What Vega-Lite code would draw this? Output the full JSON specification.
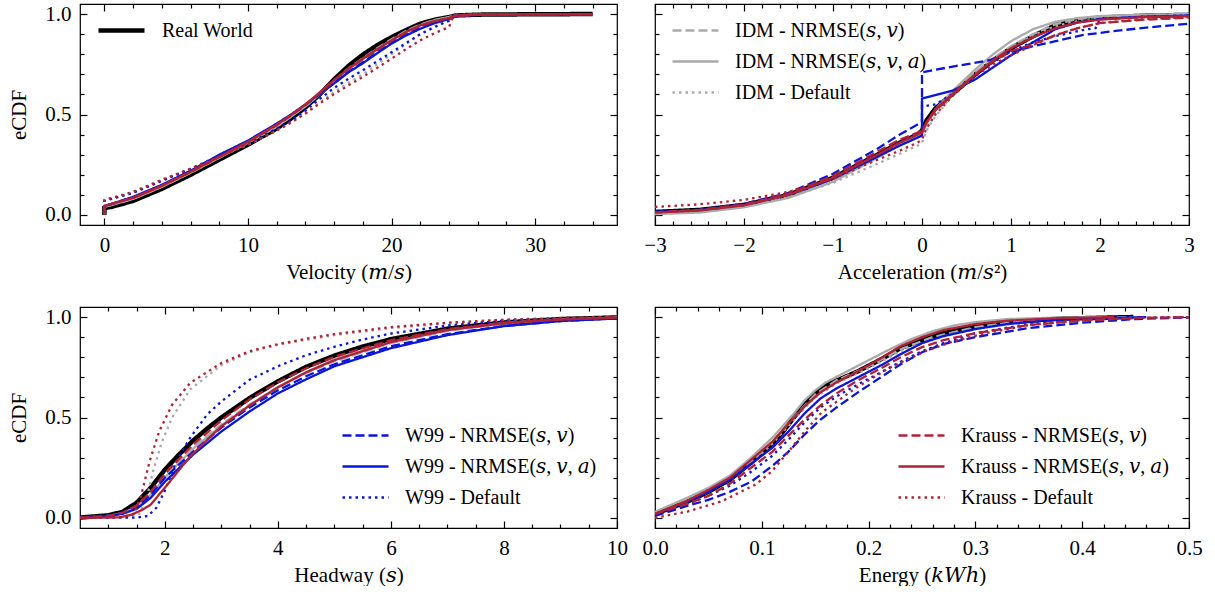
{
  "$schema": "https://vega.github.io/schema/vega-lite/v6.json",
  "padding": {"left": 8, "top": 2, "right": 0, "bottom": 0},
  "config": {
    "font": "Liberation Serif",
    "view": {"stroke": "black", "strokeWidth": 1.2},
    "axis": {"labelFont": "Liberation Serif", "labelFontSize": 21, "titleFont": "Liberation Serif, DejaVu Serif", "titleFontSize": 21, "titleFontWeight": "normal", "labelColor": "black", "titleColor": "black", "tickColor": "black", "tickWidth": 1.2, "grid": false, "domain": false, "tickSize": -7, "labelPadding": 16, "labelFlush": false, "labelOverlap": false},
    "legend": {"labelFont": "Liberation Serif, DejaVu Serif", "labelFontSize": 20, "labelColor": "black", "symbolType": "stroke", "symbolSize": 2116, "symbolStrokeWidth": 2.5, "labelOffset": 15, "rowPadding": 10, "clipHeight": 21, "labelLimit": 500, "padding": 0, "offset": 16},
    "line": {"clip": true}
  },
  "datasets": {
    "velocity": [
      {"series":"RW","x":0,"y":0},{"series":"RW","x":0,"y":0.035},{"series":"RW","x":0.5,"y":0.04},{"series":"RW","x":2,"y":0.07},{"series":"RW","x":4,"y":0.13},{"series":"RW","x":6,"y":0.2},{"series":"RW","x":8,"y":0.275},{"series":"RW","x":10,"y":0.35},{"series":"RW","x":12,"y":0.43},{"series":"RW","x":13,"y":0.48},{"series":"RW","x":14,"y":0.535},{"series":"RW","x":15,"y":0.6},{"series":"RW","x":16,"y":0.675},{"series":"RW","x":17,"y":0.742},{"series":"RW","x":18,"y":0.798},{"series":"RW","x":19,"y":0.845},{"series":"RW","x":20,"y":0.885},{"series":"RW","x":21,"y":0.92},{"series":"RW","x":22,"y":0.952},{"series":"RW","x":23,"y":0.972},{"series":"RW","x":24,"y":0.985},{"series":"RW","x":24.5,"y":0.993},{"series":"RW","x":26,"y":0.997},{"series":"RW","x":30,"y":0.999},{"series":"RW","x":34,"y":1.0},
      {"series":"I1","x":0,"y":0},{"series":"I1","x":0,"y":0.04},{"series":"I1","x":0.5,"y":0.05},{"series":"I1","x":2,"y":0.08},{"series":"I1","x":4,"y":0.14},{"series":"I1","x":6,"y":0.21},{"series":"I1","x":8,"y":0.285},{"series":"I1","x":10,"y":0.36},{"series":"I1","x":12,"y":0.44},{"series":"I1","x":13,"y":0.49},{"series":"I1","x":14,"y":0.545},{"series":"I1","x":15,"y":0.605},{"series":"I1","x":16,"y":0.67},{"series":"I1","x":17,"y":0.73},{"series":"I1","x":18,"y":0.78},{"series":"I1","x":19,"y":0.83},{"series":"I1","x":20,"y":0.875},{"series":"I1","x":21,"y":0.915},{"series":"I1","x":22,"y":0.948},{"series":"I1","x":23,"y":0.97},{"series":"I1","x":24,"y":0.985},{"series":"I1","x":24.5,"y":0.993},{"series":"I1","x":26,"y":0.997},{"series":"I1","x":34,"y":1.0},
      {"series":"I2","x":0,"y":0},{"series":"I2","x":0,"y":0.04},{"series":"I2","x":0.5,"y":0.05},{"series":"I2","x":2,"y":0.08},{"series":"I2","x":4,"y":0.14},{"series":"I2","x":6,"y":0.21},{"series":"I2","x":8,"y":0.285},{"series":"I2","x":10,"y":0.36},{"series":"I2","x":12,"y":0.44},{"series":"I2","x":13,"y":0.49},{"series":"I2","x":14,"y":0.54},{"series":"I2","x":15,"y":0.6},{"series":"I2","x":16,"y":0.665},{"series":"I2","x":17,"y":0.725},{"series":"I2","x":18,"y":0.775},{"series":"I2","x":19,"y":0.825},{"series":"I2","x":20,"y":0.87},{"series":"I2","x":21,"y":0.91},{"series":"I2","x":22,"y":0.945},{"series":"I2","x":23,"y":0.97},{"series":"I2","x":24,"y":0.985},{"series":"I2","x":24.5,"y":0.993},{"series":"I2","x":26,"y":0.997},{"series":"I2","x":34,"y":1.0},
      {"series":"I0","x":0,"y":0},{"series":"I0","x":0,"y":0.07},{"series":"I0","x":0.5,"y":0.08},{"series":"I0","x":2,"y":0.11},{"series":"I0","x":4,"y":0.17},{"series":"I0","x":6,"y":0.225},{"series":"I0","x":8,"y":0.29},{"series":"I0","x":10,"y":0.35},{"series":"I0","x":12,"y":0.42},{"series":"I0","x":13,"y":0.46},{"series":"I0","x":14,"y":0.505},{"series":"I0","x":15,"y":0.56},{"series":"I0","x":16,"y":0.612},{"series":"I0","x":17,"y":0.658},{"series":"I0","x":18,"y":0.7},{"series":"I0","x":19,"y":0.75},{"series":"I0","x":20,"y":0.8},{"series":"I0","x":21,"y":0.85},{"series":"I0","x":22,"y":0.9},{"series":"I0","x":23,"y":0.94},{"series":"I0","x":24,"y":0.965},{"series":"I0","x":24.3,"y":0.995},{"series":"I0","x":26,"y":0.998},{"series":"I0","x":34,"y":1.0},
      {"series":"W1","x":0,"y":0},{"series":"W1","x":0,"y":0.045},{"series":"W1","x":0.5,"y":0.055},{"series":"W1","x":2,"y":0.088},{"series":"W1","x":4,"y":0.148},{"series":"W1","x":6,"y":0.218},{"series":"W1","x":8,"y":0.295},{"series":"W1","x":10,"y":0.368},{"series":"W1","x":12,"y":0.45},{"series":"W1","x":13,"y":0.497},{"series":"W1","x":14,"y":0.548},{"series":"W1","x":15,"y":0.602},{"series":"W1","x":16,"y":0.655},{"series":"W1","x":17,"y":0.712},{"series":"W1","x":18,"y":0.76},{"series":"W1","x":19,"y":0.81},{"series":"W1","x":20,"y":0.857},{"series":"W1","x":21,"y":0.897},{"series":"W1","x":22,"y":0.93},{"series":"W1","x":23,"y":0.957},{"series":"W1","x":24,"y":0.977},{"series":"W1","x":24.5,"y":0.99},{"series":"W1","x":26,"y":0.996},{"series":"W1","x":34,"y":1.0},
      {"series":"W2","x":0,"y":0},{"series":"W2","x":0,"y":0.045},{"series":"W2","x":0.5,"y":0.055},{"series":"W2","x":2,"y":0.09},{"series":"W2","x":4,"y":0.15},{"series":"W2","x":6,"y":0.22},{"series":"W2","x":8,"y":0.3},{"series":"W2","x":10,"y":0.37},{"series":"W2","x":12,"y":0.455},{"series":"W2","x":13,"y":0.5},{"series":"W2","x":14,"y":0.55},{"series":"W2","x":15,"y":0.605},{"series":"W2","x":16,"y":0.655},{"series":"W2","x":17,"y":0.71},{"series":"W2","x":18,"y":0.755},{"series":"W2","x":19,"y":0.805},{"series":"W2","x":20,"y":0.853},{"series":"W2","x":21,"y":0.893},{"series":"W2","x":22,"y":0.927},{"series":"W2","x":23,"y":0.955},{"series":"W2","x":24,"y":0.975},{"series":"W2","x":24.5,"y":0.99},{"series":"W2","x":26,"y":0.996},{"series":"W2","x":34,"y":1.0},
      {"series":"W0","x":0,"y":0},{"series":"W0","x":0,"y":0.07},{"series":"W0","x":0.5,"y":0.08},{"series":"W0","x":2,"y":0.11},{"series":"W0","x":4,"y":0.17},{"series":"W0","x":6,"y":0.23},{"series":"W0","x":8,"y":0.295},{"series":"W0","x":10,"y":0.356},{"series":"W0","x":12,"y":0.43},{"series":"W0","x":13,"y":0.47},{"series":"W0","x":14,"y":0.52},{"series":"W0","x":15,"y":0.578},{"series":"W0","x":16,"y":0.632},{"series":"W0","x":17,"y":0.678},{"series":"W0","x":18,"y":0.72},{"series":"W0","x":19,"y":0.765},{"series":"W0","x":20,"y":0.81},{"series":"W0","x":21,"y":0.855},{"series":"W0","x":22,"y":0.9},{"series":"W0","x":23,"y":0.935},{"series":"W0","x":24,"y":0.968},{"series":"W0","x":24.3,"y":0.995},{"series":"W0","x":26,"y":0.998},{"series":"W0","x":34,"y":1.0},
      {"series":"K1","x":0,"y":0},{"series":"K1","x":0,"y":0.045},{"series":"K1","x":0.5,"y":0.055},{"series":"K1","x":2,"y":0.085},{"series":"K1","x":4,"y":0.145},{"series":"K1","x":6,"y":0.213},{"series":"K1","x":8,"y":0.288},{"series":"K1","x":10,"y":0.362},{"series":"K1","x":12,"y":0.447},{"series":"K1","x":13,"y":0.495},{"series":"K1","x":14,"y":0.548},{"series":"K1","x":15,"y":0.607},{"series":"K1","x":16,"y":0.67},{"series":"K1","x":17,"y":0.727},{"series":"K1","x":18,"y":0.775},{"series":"K1","x":19,"y":0.822},{"series":"K1","x":20,"y":0.866},{"series":"K1","x":21,"y":0.907},{"series":"K1","x":22,"y":0.941},{"series":"K1","x":23,"y":0.964},{"series":"K1","x":24,"y":0.98},{"series":"K1","x":24.5,"y":0.992},{"series":"K1","x":26,"y":0.996},{"series":"K1","x":34,"y":1.0},
      {"series":"K2","x":0,"y":0},{"series":"K2","x":0,"y":0.045},{"series":"K2","x":0.5,"y":0.055},{"series":"K2","x":2,"y":0.085},{"series":"K2","x":4,"y":0.145},{"series":"K2","x":6,"y":0.215},{"series":"K2","x":8,"y":0.29},{"series":"K2","x":10,"y":0.364},{"series":"K2","x":12,"y":0.45},{"series":"K2","x":13,"y":0.497},{"series":"K2","x":14,"y":0.55},{"series":"K2","x":15,"y":0.61},{"series":"K2","x":16,"y":0.672},{"series":"K2","x":17,"y":0.728},{"series":"K2","x":18,"y":0.778},{"series":"K2","x":19,"y":0.825},{"series":"K2","x":20,"y":0.869},{"series":"K2","x":21,"y":0.91},{"series":"K2","x":22,"y":0.944},{"series":"K2","x":23,"y":0.965},{"series":"K2","x":24,"y":0.98},{"series":"K2","x":24.5,"y":0.992},{"series":"K2","x":26,"y":0.996},{"series":"K2","x":30,"y":0.999},{"series":"K2","x":34,"y":1.0},
      {"series":"K0","x":0,"y":0},{"series":"K0","x":0,"y":0.075},{"series":"K0","x":0.5,"y":0.085},{"series":"K0","x":2,"y":0.115},{"series":"K0","x":4,"y":0.175},{"series":"K0","x":6,"y":0.23},{"series":"K0","x":8,"y":0.29},{"series":"K0","x":10,"y":0.35},{"series":"K0","x":12,"y":0.42},{"series":"K0","x":13,"y":0.46},{"series":"K0","x":14,"y":0.505},{"series":"K0","x":15,"y":0.555},{"series":"K0","x":16,"y":0.602},{"series":"K0","x":17,"y":0.645},{"series":"K0","x":18,"y":0.687},{"series":"K0","x":19,"y":0.732},{"series":"K0","x":20,"y":0.778},{"series":"K0","x":21,"y":0.825},{"series":"K0","x":22,"y":0.869},{"series":"K0","x":23,"y":0.905},{"series":"K0","x":24,"y":0.935},{"series":"K0","x":24.3,"y":0.99},{"series":"K0","x":26,"y":0.997},{"series":"K0","x":34,"y":1.0}
    ],
    "acceleration": [
      {"series":"RW","x":-3,"y":0.015},{"series":"RW","x":-2.5,"y":0.025},{"series":"RW","x":-2,"y":0.05},{"series":"RW","x":-1.5,"y":0.1},{"series":"RW","x":-1,"y":0.185},{"series":"RW","x":-0.5,"y":0.3},{"series":"RW","x":-0.25,"y":0.36},{"series":"RW","x":-0.05,"y":0.4},{"series":"RW","x":0,"y":0.42},{"series":"RW","x":0.05,"y":0.47},{"series":"RW","x":0.15,"y":0.53},{"series":"RW","x":0.35,"y":0.605},{"series":"RW","x":0.6,"y":0.7},{"series":"RW","x":0.8,"y":0.77},{"series":"RW","x":1,"y":0.83},{"series":"RW","x":1.25,"y":0.89},{"series":"RW","x":1.5,"y":0.945},{"series":"RW","x":1.75,"y":0.97},{"series":"RW","x":2,"y":0.982},{"series":"RW","x":2.5,"y":0.992},{"series":"RW","x":3,"y":0.996},
      {"series":"I1","x":-3,"y":0.008},{"series":"I1","x":-2.5,"y":0.02},{"series":"I1","x":-2,"y":0.045},{"series":"I1","x":-1.5,"y":0.095},{"series":"I1","x":-1,"y":0.18},{"series":"I1","x":-0.5,"y":0.295},{"series":"I1","x":-0.25,"y":0.355},{"series":"I1","x":-0.05,"y":0.395},{"series":"I1","x":0,"y":0.41},{"series":"I1","x":0.05,"y":0.45},{"series":"I1","x":0.15,"y":0.52},{"series":"I1","x":0.35,"y":0.61},{"series":"I1","x":0.6,"y":0.71},{"series":"I1","x":0.8,"y":0.78},{"series":"I1","x":1,"y":0.84},{"series":"I1","x":1.25,"y":0.9},{"series":"I1","x":1.5,"y":0.95},{"series":"I1","x":1.75,"y":0.975},{"series":"I1","x":2,"y":0.988},{"series":"I1","x":2.5,"y":0.995},{"series":"I1","x":3,"y":0.998},
      {"series":"I2","x":-3,"y":0.004},{"series":"I2","x":-2.5,"y":0.012},{"series":"I2","x":-2,"y":0.038},{"series":"I2","x":-1.5,"y":0.085},{"series":"I2","x":-1,"y":0.165},{"series":"I2","x":-0.5,"y":0.285},{"series":"I2","x":-0.25,"y":0.35},{"series":"I2","x":-0.05,"y":0.39},{"series":"I2","x":0,"y":0.405},{"series":"I2","x":0.05,"y":0.45},{"series":"I2","x":0.15,"y":0.525},{"series":"I2","x":0.35,"y":0.62},{"series":"I2","x":0.6,"y":0.725},{"series":"I2","x":0.8,"y":0.8},{"series":"I2","x":1,"y":0.865},{"series":"I2","x":1.25,"y":0.925},{"series":"I2","x":1.5,"y":0.962},{"series":"I2","x":1.75,"y":0.98},{"series":"I2","x":2,"y":0.99},{"series":"I2","x":2.5,"y":0.997},{"series":"I2","x":3,"y":1.0},
      {"series":"I0","x":-3,"y":0.01},{"series":"I0","x":-2.5,"y":0.02},{"series":"I0","x":-2,"y":0.045},{"series":"I0","x":-1.5,"y":0.088},{"series":"I0","x":-1,"y":0.16},{"series":"I0","x":-0.5,"y":0.255},{"series":"I0","x":-0.25,"y":0.305},{"series":"I0","x":-0.05,"y":0.345},{"series":"I0","x":0,"y":0.36},{"series":"I0","x":0.05,"y":0.42},{"series":"I0","x":0.15,"y":0.49},{"series":"I0","x":0.35,"y":0.6},{"series":"I0","x":0.6,"y":0.71},{"series":"I0","x":0.8,"y":0.78},{"series":"I0","x":1,"y":0.835},{"series":"I0","x":1.25,"y":0.895},{"series":"I0","x":1.5,"y":0.94},{"series":"I0","x":1.75,"y":0.965},{"series":"I0","x":2,"y":0.98},{"series":"I0","x":2.5,"y":0.99},{"series":"I0","x":3,"y":0.995},
      {"series":"W1","x":-3,"y":0.015},{"series":"W1","x":-2.5,"y":0.025},{"series":"W1","x":-2,"y":0.055},{"series":"W1","x":-1.5,"y":0.11},{"series":"W1","x":-1,"y":0.205},{"series":"W1","x":-0.5,"y":0.33},{"series":"W1","x":-0.25,"y":0.4},{"series":"W1","x":-0.05,"y":0.45},{"series":"W1","x":0,"y":0.46},{"series":"W1","x":0,"y":0.71},{"series":"W1","x":0.3,"y":0.735},{"series":"W1","x":0.76,"y":0.77},{"series":"W1","x":1,"y":0.81},{"series":"W1","x":1.25,"y":0.84},{"series":"W1","x":1.5,"y":0.865},{"series":"W1","x":1.8,"y":0.895},{"series":"W1","x":2.1,"y":0.912},{"series":"W1","x":2.4,"y":0.927},{"series":"W1","x":2.7,"y":0.94},{"series":"W1","x":3,"y":0.952},
      {"series":"W2","x":-3,"y":0.015},{"series":"W2","x":-2.5,"y":0.025},{"series":"W2","x":-2,"y":0.05},{"series":"W2","x":-1.5,"y":0.1},{"series":"W2","x":-1,"y":0.18},{"series":"W2","x":-0.5,"y":0.29},{"series":"W2","x":-0.25,"y":0.345},{"series":"W2","x":-0.05,"y":0.385},{"series":"W2","x":0,"y":0.395},{"series":"W2","x":0,"y":0.58},{"series":"W2","x":0.35,"y":0.62},{"series":"W2","x":0.6,"y":0.675},{"series":"W2","x":0.8,"y":0.735},{"series":"W2","x":1,"y":0.795},{"series":"W2","x":1.25,"y":0.86},{"series":"W2","x":1.5,"y":0.925},{"series":"W2","x":1.75,"y":0.958},{"series":"W2","x":2,"y":0.975},{"series":"W2","x":2.5,"y":0.987},{"series":"W2","x":3,"y":0.992},
      {"series":"W0","x":-3,"y":0.015},{"series":"W0","x":-2.5,"y":0.025},{"series":"W0","x":-2,"y":0.052},{"series":"W0","x":-1.5,"y":0.1},{"series":"W0","x":-1,"y":0.185},{"series":"W0","x":-0.5,"y":0.3},{"series":"W0","x":-0.25,"y":0.36},{"series":"W0","x":-0.05,"y":0.41},{"series":"W0","x":0,"y":0.42},{"series":"W0","x":0,"y":0.54},{"series":"W0","x":0.15,"y":0.55},{"series":"W0","x":0.35,"y":0.605},{"series":"W0","x":0.6,"y":0.695},{"series":"W0","x":0.8,"y":0.76},{"series":"W0","x":1,"y":0.815},{"series":"W0","x":1.25,"y":0.86},{"series":"W0","x":1.5,"y":0.89},{"series":"W0","x":1.8,"y":0.92},{"series":"W0","x":1.95,"y":0.93},{"series":"W0","x":2,"y":0.975},{"series":"W0","x":2.5,"y":0.988},{"series":"W0","x":3,"y":0.993},
      {"series":"K1","x":-3,"y":0.013},{"series":"K1","x":-2.5,"y":0.025},{"series":"K1","x":-2,"y":0.052},{"series":"K1","x":-1.5,"y":0.105},{"series":"K1","x":-1,"y":0.195},{"series":"K1","x":-0.5,"y":0.315},{"series":"K1","x":-0.25,"y":0.375},{"series":"K1","x":-0.05,"y":0.41},{"series":"K1","x":0,"y":0.42},{"series":"K1","x":0.05,"y":0.46},{"series":"K1","x":0.15,"y":0.52},{"series":"K1","x":0.35,"y":0.6},{"series":"K1","x":0.6,"y":0.7},{"series":"K1","x":0.8,"y":0.765},{"series":"K1","x":1,"y":0.815},{"series":"K1","x":1.25,"y":0.85},{"series":"K1","x":1.5,"y":0.895},{"series":"K1","x":1.75,"y":0.93},{"series":"K1","x":2,"y":0.955},{"series":"K1","x":2.5,"y":0.972},{"series":"K1","x":3,"y":0.982},
      {"series":"K2","x":-3,"y":0.012},{"series":"K2","x":-2.5,"y":0.022},{"series":"K2","x":-2,"y":0.048},{"series":"K2","x":-1.5,"y":0.1},{"series":"K2","x":-1,"y":0.185},{"series":"K2","x":-0.5,"y":0.3},{"series":"K2","x":-0.25,"y":0.36},{"series":"K2","x":-0.05,"y":0.4},{"series":"K2","x":0,"y":0.41},{"series":"K2","x":0.05,"y":0.46},{"series":"K2","x":0.15,"y":0.525},{"series":"K2","x":0.35,"y":0.605},{"series":"K2","x":0.6,"y":0.7},{"series":"K2","x":0.8,"y":0.77},{"series":"K2","x":1,"y":0.83},{"series":"K2","x":1.25,"y":0.885},{"series":"K2","x":1.5,"y":0.93},{"series":"K2","x":1.75,"y":0.958},{"series":"K2","x":2,"y":0.972},{"series":"K2","x":2.5,"y":0.985},{"series":"K2","x":3,"y":0.99},
      {"series":"K0","x":-3,"y":0.04},{"series":"K0","x":-2.5,"y":0.053},{"series":"K0","x":-2,"y":0.075},{"series":"K0","x":-1.5,"y":0.115},{"series":"K0","x":-1,"y":0.18},{"series":"K0","x":-0.5,"y":0.275},{"series":"K0","x":-0.25,"y":0.32},{"series":"K0","x":-0.05,"y":0.36},{"series":"K0","x":0,"y":0.375},{"series":"K0","x":0.05,"y":0.43},{"series":"K0","x":0.15,"y":0.5},{"series":"K0","x":0.35,"y":0.595},{"series":"K0","x":0.6,"y":0.69},{"series":"K0","x":0.8,"y":0.75},{"series":"K0","x":1,"y":0.795},{"series":"K0","x":1.25,"y":0.845},{"series":"K0","x":1.5,"y":0.895},{"series":"K0","x":1.75,"y":0.93},{"series":"K0","x":2,"y":0.955},{"series":"K0","x":2.5,"y":0.975},{"series":"K0","x":3,"y":0.985}
    ],
    "headway": [
      {"series":"RW","x":0.5,"y":0.002},{"series":"RW","x":1,"y":0.013},{"series":"RW","x":1.25,"y":0.03},{"series":"RW","x":1.5,"y":0.075},{"series":"RW","x":1.75,"y":0.15},{"series":"RW","x":2,"y":0.24},{"series":"RW","x":2.25,"y":0.315},{"series":"RW","x":2.5,"y":0.385},{"series":"RW","x":2.75,"y":0.445},{"series":"RW","x":3,"y":0.5},{"series":"RW","x":3.5,"y":0.597},{"series":"RW","x":4,"y":0.68},{"series":"RW","x":4.5,"y":0.752},{"series":"RW","x":5,"y":0.808},{"series":"RW","x":5.5,"y":0.853},{"series":"RW","x":6,"y":0.89},{"series":"RW","x":7,"y":0.942},{"series":"RW","x":8,"y":0.973},{"series":"RW","x":9,"y":0.99},{"series":"RW","x":10,"y":0.998},
      {"series":"I1","x":0.5,"y":0.002},{"series":"I1","x":1,"y":0.01},{"series":"I1","x":1.25,"y":0.025},{"series":"I1","x":1.5,"y":0.06},{"series":"I1","x":1.75,"y":0.125},{"series":"I1","x":2,"y":0.215},{"series":"I1","x":2.5,"y":0.355},{"series":"I1","x":3,"y":0.465},{"series":"I1","x":3.5,"y":0.565},{"series":"I1","x":4,"y":0.65},{"series":"I1","x":4.5,"y":0.72},{"series":"I1","x":5,"y":0.78},{"series":"I1","x":6,"y":0.87},{"series":"I1","x":7,"y":0.93},{"series":"I1","x":8,"y":0.968},{"series":"I1","x":9,"y":0.987},{"series":"I1","x":10,"y":0.997},
      {"series":"I2","x":0.5,"y":0.002},{"series":"I2","x":1,"y":0.01},{"series":"I2","x":1.25,"y":0.022},{"series":"I2","x":1.5,"y":0.055},{"series":"I2","x":1.75,"y":0.115},{"series":"I2","x":2,"y":0.2},{"series":"I2","x":2.5,"y":0.345},{"series":"I2","x":3,"y":0.46},{"series":"I2","x":3.5,"y":0.56},{"series":"I2","x":4,"y":0.65},{"series":"I2","x":4.5,"y":0.725},{"series":"I2","x":5,"y":0.79},{"series":"I2","x":6,"y":0.875},{"series":"I2","x":7,"y":0.935},{"series":"I2","x":8,"y":0.97},{"series":"I2","x":9,"y":0.988},{"series":"I2","x":10,"y":0.997},
      {"series":"I0","x":0.5,"y":0},{"series":"I0","x":1.3,"y":0.002},{"series":"I0","x":1.55,"y":0.02},{"series":"I0","x":1.68,"y":0.1},{"series":"I0","x":1.8,"y":0.24},{"series":"I0","x":1.95,"y":0.38},{"series":"I0","x":2.13,"y":0.5},{"series":"I0","x":2.45,"y":0.64},{"series":"I0","x":3,"y":0.76},{"series":"I0","x":3.5,"y":0.825},{"series":"I0","x":4,"y":0.862},{"series":"I0","x":5,"y":0.91},{"series":"I0","x":6,"y":0.945},{"series":"I0","x":7,"y":0.968},{"series":"I0","x":8,"y":0.985},{"series":"I0","x":10,"y":1.0},
      {"series":"W1","x":0.5,"y":0.003},{"series":"W1","x":1,"y":0.012},{"series":"W1","x":1.25,"y":0.025},{"series":"W1","x":1.5,"y":0.055},{"series":"W1","x":1.75,"y":0.115},{"series":"W1","x":2,"y":0.2},{"series":"W1","x":2.5,"y":0.33},{"series":"W1","x":3,"y":0.45},{"series":"W1","x":3.5,"y":0.55},{"series":"W1","x":4,"y":0.635},{"series":"W1","x":4.5,"y":0.705},{"series":"W1","x":5,"y":0.765},{"series":"W1","x":6,"y":0.855},{"series":"W1","x":7,"y":0.915},{"series":"W1","x":8,"y":0.955},{"series":"W1","x":9,"y":0.98},{"series":"W1","x":10,"y":0.995},
      {"series":"W2","x":0.5,"y":0.003},{"series":"W2","x":1,"y":0.01},{"series":"W2","x":1.25,"y":0.02},{"series":"W2","x":1.5,"y":0.045},{"series":"W2","x":1.75,"y":0.1},{"series":"W2","x":2,"y":0.18},{"series":"W2","x":2.5,"y":0.315},{"series":"W2","x":3,"y":0.43},{"series":"W2","x":3.5,"y":0.53},{"series":"W2","x":4,"y":0.62},{"series":"W2","x":4.5,"y":0.69},{"series":"W2","x":5,"y":0.755},{"series":"W2","x":6,"y":0.845},{"series":"W2","x":7,"y":0.91},{"series":"W2","x":8,"y":0.955},{"series":"W2","x":9,"y":0.98},{"series":"W2","x":10,"y":0.993},
      {"series":"W0","x":0.5,"y":0},{"series":"W0","x":1.5,"y":0.002},{"series":"W0","x":1.7,"y":0.01},{"series":"W0","x":1.85,"y":0.05},{"series":"W0","x":2,"y":0.135},{"series":"W0","x":2.2,"y":0.28},{"series":"W0","x":2.45,"y":0.4},{"series":"W0","x":2.75,"y":0.515},{"series":"W0","x":3,"y":0.58},{"series":"W0","x":3.5,"y":0.688},{"series":"W0","x":4,"y":0.755},{"series":"W0","x":4.5,"y":0.81},{"series":"W0","x":5,"y":0.852},{"series":"W0","x":5.5,"y":0.888},{"series":"W0","x":6,"y":0.918},{"series":"W0","x":7,"y":0.958},{"series":"W0","x":8,"y":0.982},{"series":"W0","x":9,"y":0.993},{"series":"W0","x":10,"y":0.999},
      {"series":"K1","x":0.5,"y":0.002},{"series":"K1","x":1,"y":0.01},{"series":"K1","x":1.25,"y":0.025},{"series":"K1","x":1.5,"y":0.06},{"series":"K1","x":1.75,"y":0.13},{"series":"K1","x":2,"y":0.22},{"series":"K1","x":2.5,"y":0.365},{"series":"K1","x":3,"y":0.485},{"series":"K1","x":3.5,"y":0.59},{"series":"K1","x":4,"y":0.675},{"series":"K1","x":4.5,"y":0.745},{"series":"K1","x":5,"y":0.802},{"series":"K1","x":6,"y":0.885},{"series":"K1","x":7,"y":0.94},{"series":"K1","x":8,"y":0.972},{"series":"K1","x":9,"y":0.988},{"series":"K1","x":10,"y":0.997},
      {"series":"K2","x":0.5,"y":0},{"series":"K2","x":1.2,"y":0.003},{"series":"K2","x":1.4,"y":0.015},{"series":"K2","x":1.6,"y":0.04},{"series":"K2","x":1.75,"y":0.066},{"series":"K2","x":2,"y":0.15},{"series":"K2","x":2.45,"y":0.307},{"series":"K2","x":3,"y":0.456},{"series":"K2","x":3.5,"y":0.56},{"series":"K2","x":4,"y":0.65},{"series":"K2","x":4.5,"y":0.725},{"series":"K2","x":5,"y":0.785},{"series":"K2","x":6,"y":0.875},{"series":"K2","x":7,"y":0.935},{"series":"K2","x":8,"y":0.97},{"series":"K2","x":9,"y":0.988},{"series":"K2","x":10,"y":0.997},
      {"series":"K0","x":0.5,"y":0},{"series":"K0","x":1.2,"y":0.002},{"series":"K0","x":1.45,"y":0.02},{"series":"K0","x":1.58,"y":0.11},{"series":"K0","x":1.73,"y":0.28},{"series":"K0","x":1.9,"y":0.43},{"series":"K0","x":2.13,"y":0.564},{"series":"K0","x":2.45,"y":0.672},{"series":"K0","x":3,"y":0.771},{"series":"K0","x":3.5,"y":0.83},{"series":"K0","x":4,"y":0.865},{"series":"K0","x":4.5,"y":0.892},{"series":"K0","x":5,"y":0.915},{"series":"K0","x":6,"y":0.95},{"series":"K0","x":7,"y":0.972},{"series":"K0","x":8,"y":0.987},{"series":"K0","x":9,"y":0.995},{"series":"K0","x":10,"y":1.0}
    ],
    "energy": [
      {"series":"RW","x":0,"y":0.02},{"series":"RW","x":0.015,"y":0.05},{"series":"RW","x":0.03,"y":0.08},{"series":"RW","x":0.05,"y":0.13},{"series":"RW","x":0.07,"y":0.19},{"series":"RW","x":0.09,"y":0.275},{"series":"RW","x":0.1,"y":0.32},{"series":"RW","x":0.11,"y":0.37},{"series":"RW","x":0.12,"y":0.43},{"series":"RW","x":0.13,"y":0.5},{"series":"RW","x":0.14,"y":0.565},{"series":"RW","x":0.15,"y":0.62},{"series":"RW","x":0.16,"y":0.66},{"series":"RW","x":0.175,"y":0.695},{"series":"RW","x":0.19,"y":0.73},{"series":"RW","x":0.21,"y":0.785},{"series":"RW","x":0.23,"y":0.845},{"series":"RW","x":0.25,"y":0.885},{"series":"RW","x":0.27,"y":0.92},{"series":"RW","x":0.3,"y":0.953},{"series":"RW","x":0.33,"y":0.975},{"series":"RW","x":0.38,"y":0.992},{"series":"RW","x":0.448,"y":1.0},
      {"series":"I1","x":0,"y":0.02},{"series":"I1","x":0.03,"y":0.085},{"series":"I1","x":0.05,"y":0.135},{"series":"I1","x":0.07,"y":0.195},{"series":"I1","x":0.09,"y":0.28},{"series":"I1","x":0.11,"y":0.38},{"series":"I1","x":0.13,"y":0.5},{"series":"I1","x":0.15,"y":0.615},{"series":"I1","x":0.17,"y":0.685},{"series":"I1","x":0.2,"y":0.755},{"series":"I1","x":0.23,"y":0.84},{"series":"I1","x":0.26,"y":0.9},{"series":"I1","x":0.3,"y":0.95},{"series":"I1","x":0.35,"y":0.985},{"series":"I1","x":0.4,"y":0.997},{"series":"I1","x":0.45,"y":1.0},
      {"series":"I2","x":0,"y":0.03},{"series":"I2","x":0.03,"y":0.1},{"series":"I2","x":0.05,"y":0.15},{"series":"I2","x":0.07,"y":0.21},{"series":"I2","x":0.09,"y":0.3},{"series":"I2","x":0.1,"y":0.35},{"series":"I2","x":0.11,"y":0.4},{"series":"I2","x":0.12,"y":0.46},{"series":"I2","x":0.13,"y":0.52},{"series":"I2","x":0.14,"y":0.585},{"series":"I2","x":0.15,"y":0.635},{"series":"I2","x":0.16,"y":0.675},{"series":"I2","x":0.18,"y":0.73},{"series":"I2","x":0.2,"y":0.785},{"series":"I2","x":0.22,"y":0.84},{"series":"I2","x":0.24,"y":0.89},{"series":"I2","x":0.26,"y":0.93},{"series":"I2","x":0.28,"y":0.958},{"series":"I2","x":0.3,"y":0.975},{"series":"I2","x":0.33,"y":0.99},{"series":"I2","x":0.38,"y":0.998},{"series":"I2","x":0.42,"y":1.0},
      {"series":"I0","x":0,"y":0.02},{"series":"I0","x":0.03,"y":0.08},{"series":"I0","x":0.05,"y":0.13},{"series":"I0","x":0.07,"y":0.19},{"series":"I0","x":0.09,"y":0.27},{"series":"I0","x":0.11,"y":0.37},{"series":"I0","x":0.13,"y":0.49},{"series":"I0","x":0.15,"y":0.6},{"series":"I0","x":0.17,"y":0.67},{"series":"I0","x":0.2,"y":0.745},{"series":"I0","x":0.23,"y":0.83},{"series":"I0","x":0.26,"y":0.89},{"series":"I0","x":0.3,"y":0.945},{"series":"I0","x":0.35,"y":0.98},{"series":"I0","x":0.4,"y":0.995},{"series":"I0","x":0.45,"y":1.0},
      {"series":"W1","x":0,"y":0.01},{"series":"W1","x":0.03,"y":0.06},{"series":"W1","x":0.05,"y":0.09},{"series":"W1","x":0.07,"y":0.13},{"series":"W1","x":0.09,"y":0.18},{"series":"W1","x":0.11,"y":0.26},{"series":"W1","x":0.125,"y":0.33},{"series":"W1","x":0.14,"y":0.415},{"series":"W1","x":0.155,"y":0.49},{"series":"W1","x":0.17,"y":0.55},{"series":"W1","x":0.19,"y":0.625},{"series":"W1","x":0.21,"y":0.695},{"series":"W1","x":0.23,"y":0.765},{"series":"W1","x":0.25,"y":0.825},{"series":"W1","x":0.27,"y":0.865},{"series":"W1","x":0.3,"y":0.9},{"series":"W1","x":0.35,"y":0.945},{"series":"W1","x":0.4,"y":0.972},{"series":"W1","x":0.45,"y":0.99},{"series":"W1","x":0.5,"y":0.998},
      {"series":"W2","x":0,"y":0.02},{"series":"W2","x":0.03,"y":0.08},{"series":"W2","x":0.05,"y":0.13},{"series":"W2","x":0.07,"y":0.19},{"series":"W2","x":0.09,"y":0.27},{"series":"W2","x":0.11,"y":0.35},{"series":"W2","x":0.125,"y":0.43},{"series":"W2","x":0.14,"y":0.52},{"series":"W2","x":0.155,"y":0.595},{"series":"W2","x":0.17,"y":0.645},{"series":"W2","x":0.19,"y":0.7},{"series":"W2","x":0.21,"y":0.755},{"series":"W2","x":0.23,"y":0.815},{"series":"W2","x":0.25,"y":0.87},{"series":"W2","x":0.27,"y":0.905},{"series":"W2","x":0.3,"y":0.94},{"series":"W2","x":0.33,"y":0.965},{"series":"W2","x":0.37,"y":0.985},{"series":"W2","x":0.42,"y":0.995},{"series":"W2","x":0.46,"y":1.0},
      {"series":"W0","x":0,"y":0.015},{"series":"W0","x":0.03,"y":0.07},{"series":"W0","x":0.05,"y":0.11},{"series":"W0","x":0.07,"y":0.16},{"series":"W0","x":0.09,"y":0.23},{"series":"W0","x":0.11,"y":0.31},{"series":"W0","x":0.125,"y":0.39},{"series":"W0","x":0.14,"y":0.475},{"series":"W0","x":0.155,"y":0.55},{"series":"W0","x":0.17,"y":0.605},{"series":"W0","x":0.19,"y":0.665},{"series":"W0","x":0.21,"y":0.72},{"series":"W0","x":0.23,"y":0.778},{"series":"W0","x":0.25,"y":0.83},{"series":"W0","x":0.27,"y":0.87},{"series":"W0","x":0.3,"y":0.92},{"series":"W0","x":0.35,"y":0.965},{"series":"W0","x":0.4,"y":0.985},{"series":"W0","x":0.45,"y":0.995},{"series":"W0","x":0.5,"y":1.0},
      {"series":"K1","x":0,"y":0.02},{"series":"K1","x":0.03,"y":0.07},{"series":"K1","x":0.05,"y":0.11},{"series":"K1","x":0.07,"y":0.17},{"series":"K1","x":0.09,"y":0.25},{"series":"K1","x":0.11,"y":0.33},{"series":"K1","x":0.125,"y":0.41},{"series":"K1","x":0.14,"y":0.49},{"series":"K1","x":0.155,"y":0.56},{"series":"K1","x":0.17,"y":0.62},{"series":"K1","x":0.19,"y":0.685},{"series":"K1","x":0.21,"y":0.74},{"series":"K1","x":0.23,"y":0.8},{"series":"K1","x":0.25,"y":0.85},{"series":"K1","x":0.27,"y":0.885},{"series":"K1","x":0.3,"y":0.92},{"series":"K1","x":0.35,"y":0.96},{"series":"K1","x":0.4,"y":0.983},{"series":"K1","x":0.45,"y":0.995},{"series":"K1","x":0.5,"y":1.0},
      {"series":"K2","x":0,"y":0.02},{"series":"K2","x":0.03,"y":0.085},{"series":"K2","x":0.05,"y":0.14},{"series":"K2","x":0.07,"y":0.2},{"series":"K2","x":0.09,"y":0.29},{"series":"K2","x":0.11,"y":0.38},{"series":"K2","x":0.125,"y":0.47},{"series":"K2","x":0.14,"y":0.555},{"series":"K2","x":0.155,"y":0.625},{"series":"K2","x":0.17,"y":0.675},{"series":"K2","x":0.19,"y":0.73},{"series":"K2","x":0.21,"y":0.79},{"series":"K2","x":0.23,"y":0.855},{"series":"K2","x":0.25,"y":0.9},{"series":"K2","x":0.27,"y":0.935},{"series":"K2","x":0.3,"y":0.965},{"series":"K2","x":0.33,"y":0.982},{"series":"K2","x":0.38,"y":0.995},{"series":"K2","x":0.43,"y":1.0},
      {"series":"K0","x":0,"y":0.0},{"series":"K0","x":0.031,"y":0.033},{"series":"K0","x":0.0625,"y":0.083},{"series":"K0","x":0.094,"y":0.166},{"series":"K0","x":0.109,"y":0.23},{"series":"K0","x":0.125,"y":0.33},{"series":"K0","x":0.14,"y":0.43},{"series":"K0","x":0.156,"y":0.525},{"series":"K0","x":0.1875,"y":0.645},{"series":"K0","x":0.219,"y":0.746},{"series":"K0","x":0.253,"y":0.83},{"series":"K0","x":0.28,"y":0.88},{"series":"K0","x":0.31,"y":0.92},{"series":"K0","x":0.35,"y":0.96},{"series":"K0","x":0.4,"y":0.985},{"series":"K0","x":0.45,"y":0.995},{"series":"K0","x":0.5,"y":1.0}
    ]
  },
  "columns": 2,
  "spacing": {"row": 82, "column": 38},
  "bounds": "flush",
  "resolve": {
    "scale": {"x": "independent", "y": "independent", "color": "independent", "strokeDash": "independent"},
    "axis": {"x": "independent", "y": "independent"},
    "legend": {"color": "independent", "strokeDash": "independent"}
  },
  "concat": [
    {
      "width": 537, "height": 221,
      "data": {"name": "velocity"},
      "resolve": {"axis": {"x": "independent", "y": "independent"}},
      "layer": [
        {
          "mark": {"type": "line", "clip": true},
          "encoding": {
            "x": {"field": "x", "type": "quantitative", "scale": {"domain": [-1.7, 35.7], "nice": false, "zero": false}, "axis": {"orient": "bottom", "values": [0, 10, 20, 30], "format": "d", "title": "Velocity (𝑚/𝑠)", "titlePadding": 6}},
            "y": {"field": "y", "type": "quantitative", "scale": {"domain": [-0.05, 1.05], "nice": false, "zero": false}, "axis": {"orient": "left", "values": [0, 0.5, 1], "format": ".1f", "title": "eCDF", "titlePadding": 15}},
            "color": {"field": "series", "type": "nominal", "scale": {"domain": ["RW","I1","I2","I0","W1","W2","W0","K1","K2","K0"], "range": ["#000000","#aaaaaa","#aaaaaa","#aaaaaa","#0a16d6","#0a16d6","#0a16d6","#b02337","#b02337","#b02337"]}, "legend": {"values": ["RW"], "title": null, "orient": "top-left", "symbolStrokeWidth": 4.5, "labelExpr": "({'RW':'Real World','I1':'IDM - NRMSE(𝑠, 𝑣)','I2':'IDM - NRMSE(𝑠, 𝑣, 𝑎)','I0':'IDM - Default','W1':'W99 - NRMSE(𝑠, 𝑣)','W2':'W99 - NRMSE(𝑠, 𝑣, 𝑎)','W0':'W99 - Default','K1':'Krauss - NRMSE(𝑠, 𝑣)','K2':'Krauss - NRMSE(𝑠, 𝑣, 𝑎)','K0':'Krauss - Default'})[datum.label]"}},
            "strokeDash": {"field": "series", "type": "nominal", "scale": {"domain": ["RW","I1","I2","I0","W1","W2","W0","K1","K2","K0"], "range": [[1,0],[9,4],[1,0],[2.5,4],[9,4],[1,0],[2.5,4],[9,4],[1,0],[2.5,4]]}, "legend": {"values": ["RW"], "title": null, "orient": "top-left", "symbolStrokeWidth": 4.5, "labelExpr": "({'RW':'Real World','I1':'IDM - NRMSE(𝑠, 𝑣)','I2':'IDM - NRMSE(𝑠, 𝑣, 𝑎)','I0':'IDM - Default','W1':'W99 - NRMSE(𝑠, 𝑣)','W2':'W99 - NRMSE(𝑠, 𝑣, 𝑎)','W0':'W99 - Default','K1':'Krauss - NRMSE(𝑠, 𝑣)','K2':'Krauss - NRMSE(𝑠, 𝑣, 𝑎)','K0':'Krauss - Default'})[datum.label]"}},
            "strokeWidth": {"condition": {"test": "datum.series === 'RW'", "value": 4.5}, "value": 2.3},
            "order": {"value": null}
          }
        },
        {
          "transform": [{"filter": "false"}],
          "mark": "point",
          "encoding": {
            "x": {"field": "x", "type": "quantitative", "scale": {"domain": [-1.7, 35.7], "nice": false, "zero": false}, "axis": {"orient": "bottom", "values": [2,4,6,8,12,14,16,18,22,24,26,28,32,34], "labels": false, "title": null, "tickSize": -4}},
            "y": {"field": "y", "type": "quantitative", "scale": {"domain": [-0.05, 1.05], "nice": false, "zero": false}, "axis": {"orient": "left", "values": [0.1,0.2,0.3,0.4,0.6,0.7,0.8,0.9], "labels": false, "title": null, "tickSize": -4}}
          }
        },
        {
          "transform": [{"filter": "false"}],
          "mark": "point",
          "encoding": {
            "x": {"field": "x", "type": "quantitative", "scale": {"domain": [-1.7, 35.7], "nice": false, "zero": false}, "axis": {"orient": "top", "values": [0, 10, 20, 30], "labels": false, "title": null}},
            "y": {"field": "y", "type": "quantitative", "scale": {"domain": [-0.05, 1.05], "nice": false, "zero": false}, "axis": {"orient": "right", "values": [0, 0.5, 1], "labels": false, "title": null}}
          }
        },
        {
          "transform": [{"filter": "false"}],
          "mark": "point",
          "encoding": {
            "x": {"field": "x", "type": "quantitative", "scale": {"domain": [-1.7, 35.7], "nice": false, "zero": false}, "axis": {"orient": "top", "values": [2,4,6,8,12,14,16,18,22,24,26,28,32,34], "labels": false, "title": null, "tickSize": -4}},
            "y": {"field": "y", "type": "quantitative", "scale": {"domain": [-0.05, 1.05], "nice": false, "zero": false}, "axis": {"orient": "right", "values": [0.1,0.2,0.3,0.4,0.6,0.7,0.8,0.9], "labels": false, "title": null, "tickSize": -4}}
          }
        }
      ]
    },
    {
      "width": 534, "height": 221,
      "data": {"name": "acceleration"},
      "resolve": {"axis": {"x": "independent", "y": "independent"}},
      "layer": [
        {
          "mark": {"type": "line", "clip": true},
          "encoding": {
            "x": {"field": "x", "type": "quantitative", "scale": {"domain": [-3, 3], "nice": false, "zero": false}, "axis": {"orient": "bottom", "values": [-3,-2,-1,0,1,2,3], "format": "d", "title": "Acceleration (𝑚/𝑠²)", "titlePadding": 6}},
            "y": {"field": "y", "type": "quantitative", "scale": {"domain": [-0.05, 1.05], "nice": false, "zero": false}, "axis": {"orient": "left", "values": [0, 0.5, 1], "labels": false, "title": null}},
            "color": {"field": "series", "type": "nominal", "scale": {"domain": ["RW","I1","I2","I0","W1","W2","W0","K1","K2","K0"], "range": ["#000000","#aaaaaa","#aaaaaa","#aaaaaa","#0a16d6","#0a16d6","#0a16d6","#b02337","#b02337","#b02337"]}, "legend": {"values": ["I1","I2","I0"], "title": null, "orient": "top-left", "labelExpr": "({'RW':'Real World','I1':'IDM - NRMSE(𝑠, 𝑣)','I2':'IDM - NRMSE(𝑠, 𝑣, 𝑎)','I0':'IDM - Default','W1':'W99 - NRMSE(𝑠, 𝑣)','W2':'W99 - NRMSE(𝑠, 𝑣, 𝑎)','W0':'W99 - Default','K1':'Krauss - NRMSE(𝑠, 𝑣)','K2':'Krauss - NRMSE(𝑠, 𝑣, 𝑎)','K0':'Krauss - Default'})[datum.label]"}},
            "strokeDash": {"field": "series", "type": "nominal", "scale": {"domain": ["RW","I1","I2","I0","W1","W2","W0","K1","K2","K0"], "range": [[1,0],[9,4],[1,0],[2.5,4],[9,4],[1,0],[2.5,4],[9,4],[1,0],[2.5,4]]}, "legend": {"values": ["I1","I2","I0"], "title": null, "orient": "top-left", "labelExpr": "({'RW':'Real World','I1':'IDM - NRMSE(𝑠, 𝑣)','I2':'IDM - NRMSE(𝑠, 𝑣, 𝑎)','I0':'IDM - Default','W1':'W99 - NRMSE(𝑠, 𝑣)','W2':'W99 - NRMSE(𝑠, 𝑣, 𝑎)','W0':'W99 - Default','K1':'Krauss - NRMSE(𝑠, 𝑣)','K2':'Krauss - NRMSE(𝑠, 𝑣, 𝑎)','K0':'Krauss - Default'})[datum.label]"}},
            "strokeWidth": {"condition": {"test": "datum.series === 'RW'", "value": 4.5}, "value": 2.3},
            "order": {"value": null}
          }
        },
        {
          "transform": [{"filter": "false"}],
          "mark": "point",
          "encoding": {
            "x": {"field": "x", "type": "quantitative", "scale": {"domain": [-3, 3], "nice": false, "zero": false}, "axis": {"orient": "bottom", "values": [-2.8,-2.6,-2.4,-2.2,-1.8,-1.6,-1.4,-1.2,-0.8,-0.6,-0.4,-0.2,0.2,0.4,0.6,0.8,1.2,1.4,1.6,1.8,2.2,2.4,2.6,2.8], "labels": false, "title": null, "tickSize": -4}},
            "y": {"field": "y", "type": "quantitative", "scale": {"domain": [-0.05, 1.05], "nice": false, "zero": false}, "axis": {"orient": "left", "values": [0.1,0.2,0.3,0.4,0.6,0.7,0.8,0.9], "labels": false, "title": null, "tickSize": -4}}
          }
        },
        {
          "transform": [{"filter": "false"}],
          "mark": "point",
          "encoding": {
            "x": {"field": "x", "type": "quantitative", "scale": {"domain": [-3, 3], "nice": false, "zero": false}, "axis": {"orient": "top", "values": [-3,-2,-1,0,1,2,3], "labels": false, "title": null}},
            "y": {"field": "y", "type": "quantitative", "scale": {"domain": [-0.05, 1.05], "nice": false, "zero": false}, "axis": {"orient": "right", "values": [0, 0.5, 1], "labels": false, "title": null}}
          }
        },
        {
          "transform": [{"filter": "false"}],
          "mark": "point",
          "encoding": {
            "x": {"field": "x", "type": "quantitative", "scale": {"domain": [-3, 3], "nice": false, "zero": false}, "axis": {"orient": "top", "values": [-2.8,-2.6,-2.4,-2.2,-1.8,-1.6,-1.4,-1.2,-0.8,-0.6,-0.4,-0.2,0.2,0.4,0.6,0.8,1.2,1.4,1.6,1.8,2.2,2.4,2.6,2.8], "labels": false, "title": null, "tickSize": -4}},
            "y": {"field": "y", "type": "quantitative", "scale": {"domain": [-0.05, 1.05], "nice": false, "zero": false}, "axis": {"orient": "right", "values": [0.1,0.2,0.3,0.4,0.6,0.7,0.8,0.9], "labels": false, "title": null, "tickSize": -4}}
          }
        }
      ]
    },
    {
      "width": 537, "height": 221,
      "data": {"name": "headway"},
      "resolve": {"axis": {"x": "independent", "y": "independent"}},
      "layer": [
        {
          "mark": {"type": "line", "clip": true},
          "encoding": {
            "x": {"field": "x", "type": "quantitative", "scale": {"domain": [0.5, 10], "nice": false, "zero": false}, "axis": {"orient": "bottom", "values": [2,4,6,8,10], "format": "d", "title": "Headway (𝑠)", "titlePadding": 6}},
            "y": {"field": "y", "type": "quantitative", "scale": {"domain": [-0.05, 1.05], "nice": false, "zero": false}, "axis": {"orient": "left", "values": [0, 0.5, 1], "format": ".1f", "title": "eCDF", "titlePadding": 15}},
            "color": {"field": "series", "type": "nominal", "scale": {"domain": ["RW","I1","I2","I0","W1","W2","W0","K1","K2","K0"], "range": ["#000000","#aaaaaa","#aaaaaa","#aaaaaa","#0a16d6","#0a16d6","#0a16d6","#b02337","#b02337","#b02337"]}, "legend": {"values": ["W1","W2","W0"], "title": null, "orient": "bottom-right", "offset": 20, "labelExpr": "({'RW':'Real World','I1':'IDM - NRMSE(𝑠, 𝑣)','I2':'IDM - NRMSE(𝑠, 𝑣, 𝑎)','I0':'IDM - Default','W1':'W99 - NRMSE(𝑠, 𝑣)','W2':'W99 - NRMSE(𝑠, 𝑣, 𝑎)','W0':'W99 - Default','K1':'Krauss - NRMSE(𝑠, 𝑣)','K2':'Krauss - NRMSE(𝑠, 𝑣, 𝑎)','K0':'Krauss - Default'})[datum.label]"}},
            "strokeDash": {"field": "series", "type": "nominal", "scale": {"domain": ["RW","I1","I2","I0","W1","W2","W0","K1","K2","K0"], "range": [[1,0],[9,4],[1,0],[2.5,4],[9,4],[1,0],[2.5,4],[9,4],[1,0],[2.5,4]]}, "legend": {"values": ["W1","W2","W0"], "title": null, "orient": "bottom-right", "offset": 20, "labelExpr": "({'RW':'Real World','I1':'IDM - NRMSE(𝑠, 𝑣)','I2':'IDM - NRMSE(𝑠, 𝑣, 𝑎)','I0':'IDM - Default','W1':'W99 - NRMSE(𝑠, 𝑣)','W2':'W99 - NRMSE(𝑠, 𝑣, 𝑎)','W0':'W99 - Default','K1':'Krauss - NRMSE(𝑠, 𝑣)','K2':'Krauss - NRMSE(𝑠, 𝑣, 𝑎)','K0':'Krauss - Default'})[datum.label]"}},
            "strokeWidth": {"condition": {"test": "datum.series === 'RW'", "value": 4.5}, "value": 2.3},
            "order": {"value": null}
          }
        },
        {
          "transform": [{"filter": "false"}],
          "mark": "point",
          "encoding": {
            "x": {"field": "x", "type": "quantitative", "scale": {"domain": [0.5, 10], "nice": false, "zero": false}, "axis": {"orient": "bottom", "values": [1,1.5,2.5,3,3.5,4.5,5,5.5,6.5,7,7.5,8.5,9,9.5], "labels": false, "title": null, "tickSize": -4}},
            "y": {"field": "y", "type": "quantitative", "scale": {"domain": [-0.05, 1.05], "nice": false, "zero": false}, "axis": {"orient": "left", "values": [0.1,0.2,0.3,0.4,0.6,0.7,0.8,0.9], "labels": false, "title": null, "tickSize": -4}}
          }
        },
        {
          "transform": [{"filter": "false"}],
          "mark": "point",
          "encoding": {
            "x": {"field": "x", "type": "quantitative", "scale": {"domain": [0.5, 10], "nice": false, "zero": false}, "axis": {"orient": "top", "values": [2,4,6,8,10], "labels": false, "title": null}},
            "y": {"field": "y", "type": "quantitative", "scale": {"domain": [-0.05, 1.05], "nice": false, "zero": false}, "axis": {"orient": "right", "values": [0, 0.5, 1], "labels": false, "title": null}}
          }
        },
        {
          "transform": [{"filter": "false"}],
          "mark": "point",
          "encoding": {
            "x": {"field": "x", "type": "quantitative", "scale": {"domain": [0.5, 10], "nice": false, "zero": false}, "axis": {"orient": "top", "values": [1,1.5,2.5,3,3.5,4.5,5,5.5,6.5,7,7.5,8.5,9,9.5], "labels": false, "title": null, "tickSize": -4}},
            "y": {"field": "y", "type": "quantitative", "scale": {"domain": [-0.05, 1.05], "nice": false, "zero": false}, "axis": {"orient": "right", "values": [0.1,0.2,0.3,0.4,0.6,0.7,0.8,0.9], "labels": false, "title": null, "tickSize": -4}}
          }
        }
      ]
    },
    {
      "width": 534, "height": 221,
      "data": {"name": "energy"},
      "resolve": {"axis": {"x": "independent", "y": "independent"}},
      "layer": [
        {
          "mark": {"type": "line", "clip": true},
          "encoding": {
            "x": {"field": "x", "type": "quantitative", "scale": {"domain": [0, 0.5], "nice": false, "zero": false}, "axis": {"orient": "bottom", "values": [0,0.1,0.2,0.3,0.4,0.5], "format": ".1f", "title": "Energy (𝑘𝑊ℎ)", "titlePadding": 6}},
            "y": {"field": "y", "type": "quantitative", "scale": {"domain": [-0.05, 1.05], "nice": false, "zero": false}, "axis": {"orient": "left", "values": [0, 0.5, 1], "labels": false, "title": null}},
            "color": {"field": "series", "type": "nominal", "scale": {"domain": ["RW","I1","I2","I0","W1","W2","W0","K1","K2","K0"], "range": ["#000000","#aaaaaa","#aaaaaa","#aaaaaa","#0a16d6","#0a16d6","#0a16d6","#b02337","#b02337","#b02337"]}, "legend": {"values": ["K1","K2","K0"], "title": null, "orient": "bottom-right", "offset": 20, "labelExpr": "({'RW':'Real World','I1':'IDM - NRMSE(𝑠, 𝑣)','I2':'IDM - NRMSE(𝑠, 𝑣, 𝑎)','I0':'IDM - Default','W1':'W99 - NRMSE(𝑠, 𝑣)','W2':'W99 - NRMSE(𝑠, 𝑣, 𝑎)','W0':'W99 - Default','K1':'Krauss - NRMSE(𝑠, 𝑣)','K2':'Krauss - NRMSE(𝑠, 𝑣, 𝑎)','K0':'Krauss - Default'})[datum.label]"}},
            "strokeDash": {"field": "series", "type": "nominal", "scale": {"domain": ["RW","I1","I2","I0","W1","W2","W0","K1","K2","K0"], "range": [[1,0],[9,4],[1,0],[2.5,4],[9,4],[1,0],[2.5,4],[9,4],[1,0],[2.5,4]]}, "legend": {"values": ["K1","K2","K0"], "title": null, "orient": "bottom-right", "offset": 20, "labelExpr": "({'RW':'Real World','I1':'IDM - NRMSE(𝑠, 𝑣)','I2':'IDM - NRMSE(𝑠, 𝑣, 𝑎)','I0':'IDM - Default','W1':'W99 - NRMSE(𝑠, 𝑣)','W2':'W99 - NRMSE(𝑠, 𝑣, 𝑎)','W0':'W99 - Default','K1':'Krauss - NRMSE(𝑠, 𝑣)','K2':'Krauss - NRMSE(𝑠, 𝑣, 𝑎)','K0':'Krauss - Default'})[datum.label]"}},
            "strokeWidth": {"condition": {"test": "datum.series === 'RW'", "value": 4.5}, "value": 2.3},
            "order": {"value": null}
          }
        },
        {
          "transform": [{"filter": "false"}],
          "mark": "point",
          "encoding": {
            "x": {"field": "x", "type": "quantitative", "scale": {"domain": [0, 0.5], "nice": false, "zero": false}, "axis": {"orient": "bottom", "values": [0.02,0.04,0.06,0.08,0.12,0.14,0.16,0.18,0.22,0.24,0.26,0.28,0.32,0.34,0.36,0.38,0.42,0.44,0.46,0.48], "labels": false, "title": null, "tickSize": -4}},
            "y": {"field": "y", "type": "quantitative", "scale": {"domain": [-0.05, 1.05], "nice": false, "zero": false}, "axis": {"orient": "left", "values": [0.1,0.2,0.3,0.4,0.6,0.7,0.8,0.9], "labels": false, "title": null, "tickSize": -4}}
          }
        },
        {
          "transform": [{"filter": "false"}],
          "mark": "point",
          "encoding": {
            "x": {"field": "x", "type": "quantitative", "scale": {"domain": [0, 0.5], "nice": false, "zero": false}, "axis": {"orient": "top", "values": [0,0.1,0.2,0.3,0.4,0.5], "labels": false, "title": null}},
            "y": {"field": "y", "type": "quantitative", "scale": {"domain": [-0.05, 1.05], "nice": false, "zero": false}, "axis": {"orient": "right", "values": [0, 0.5, 1], "labels": false, "title": null}}
          }
        },
        {
          "transform": [{"filter": "false"}],
          "mark": "point",
          "encoding": {
            "x": {"field": "x", "type": "quantitative", "scale": {"domain": [0, 0.5], "nice": false, "zero": false}, "axis": {"orient": "top", "values": [0.02,0.04,0.06,0.08,0.12,0.14,0.16,0.18,0.22,0.24,0.26,0.28,0.32,0.34,0.36,0.38,0.42,0.44,0.46,0.48], "labels": false, "title": null, "tickSize": -4}},
            "y": {"field": "y", "type": "quantitative", "scale": {"domain": [-0.05, 1.05], "nice": false, "zero": false}, "axis": {"orient": "right", "values": [0.1,0.2,0.3,0.4,0.6,0.7,0.8,0.9], "labels": false, "title": null, "tickSize": -4}}
          }
        }
      ]
    }
  ]
}
